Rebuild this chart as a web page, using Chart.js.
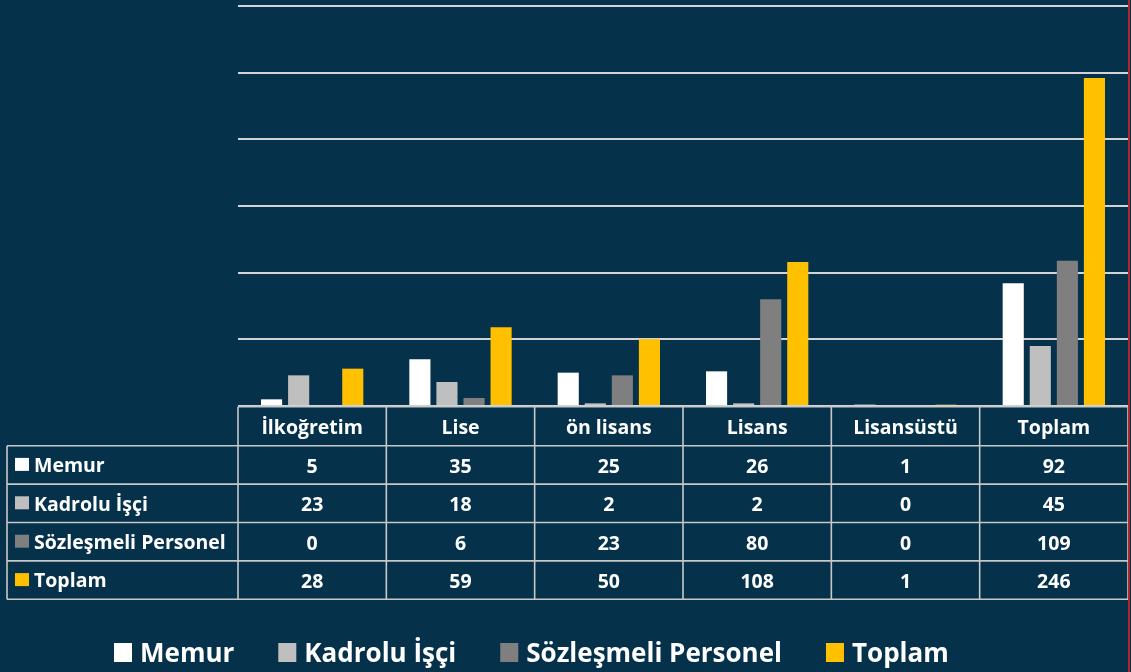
<!DOCTYPE html>
<html>
<head>
<meta charset="utf-8">
<script src="https://cdn.jsdelivr.net/npm/chart.js@4.4.1/dist/chart.umd.min.js"></script>
<style>
  html, body { margin: 0; padding: 0; background: #05324A; }
  #wrap { width: 1131px; height: 672px; position: relative; }
  canvas { display: block; }
</style>
</head>
<body>
<div id="wrap"><canvas id="c" width="1131" height="672"></canvas></div>
<script>
// ---- data ----
const categories = ['İlkoğretim', 'Lise', 'ön lisans', 'Lisans', 'Lisansüstü', 'Toplam'];
const seriesNames = ['Memur', 'Kadrolu İşçi', 'Sözleşmeli Personel', 'Toplam'];
const memur = [5, 35, 25, 26, 1, 92];
const kadrolu = [23, 18, 2, 2, 0, 45];
const sozlesmeli = [0, 6, 23, 80, 0, 109];
const toplam = [28, 59, 50, 108, 1, 246];
const yMin = 0;
const yMax = 300;
const yStep = 50;

// ---- styles ----
const BG = '#05324A';
const colors = ['#FFFFFF', '#BFBFBF', '#7F7F7F', '#FFC000'];
const FONT = '"Open Sans", "DejaVu Sans", sans-serif';
const LINE = '#c8c8c8';

const seriesValues = [memur, kadrolu, sozlesmeli, toplam];

const bgPlugin = {
  id: 'bg',
  beforeDraw(chart) {
    const ctx = chart.ctx;
    ctx.save();
    ctx.fillStyle = BG;
    ctx.fillRect(0, 0, chart.width, chart.height);
    ctx.restore();
  }
};

const tablePlugin = {
  id: 'dataTable',
  afterDraw(chart) {
    const ctx = chart.ctx;
    const area = chart.chartArea;
    const n = categories.length;
    const colW = (area.right - area.left) / n;
    const labelLeft = 7;
    const top = area.bottom + 0.7;
    const headerH = 39;
    const rowH = 38.4;
    const nRows = chart.data.datasets.length;
    const bottom = top + headerH + nRows * rowH;

    ctx.save();
    ctx.strokeStyle = LINE;
    ctx.lineWidth = 1.6;
    ctx.beginPath();
    ctx.moveTo(area.left, top); ctx.lineTo(area.right, top);
    for (let r = 0; r <= nRows; r++) {
      const y = top + headerH + r * rowH;
      ctx.moveTo(labelLeft, y); ctx.lineTo(area.right, y);
    }
    ctx.moveTo(labelLeft, top + headerH); ctx.lineTo(labelLeft, bottom);
    for (let i = 0; i <= n; i++) {
      const x = area.left + i * colW;
      ctx.moveTo(x, top); ctx.lineTo(x, bottom);
    }
    ctx.stroke();

    ctx.fillStyle = '#FFFFFF';
    ctx.font = 'bold 19.5px ' + FONT;
    ctx.textAlign = 'center';
    ctx.textBaseline = 'alphabetic';
    const xs = chart.scales.x;
    categories.forEach((c, i) => {
      const cx = xs.getPixelForValue(i);
      ctx.fillText(c, cx, top + headerH / 2 + 7.3);
    });

    chart.data.datasets.forEach((ds, r) => {
      const rowTop = top + headerH + r * rowH;
      const cy = rowTop + rowH / 2;
      ctx.fillStyle = ds.backgroundColor;
      ctx.fillRect(15, cy - 7, 14, 13);
      ctx.fillStyle = '#FFFFFF';
      ctx.textAlign = 'left';
      ctx.fillText(ds.label, 34, cy + 7.3);
      ctx.textAlign = 'center';
      ds.data.forEach((v, i) => {
        ctx.fillText(String(v), xs.getPixelForValue(i), cy + 8);
      });
    });

    ctx.font = 'bold 26px ' + FONT;
    ctx.textAlign = 'left';
    let x = 114;
    const base = 662;
    chart.data.datasets.forEach((ds) => {
      ctx.fillStyle = ds.backgroundColor;
      ctx.fillRect(x, base - 19, 18, 19);
      x += 26;
      ctx.fillStyle = '#FFFFFF';
      ctx.fillText(ds.label, x, base);
      x += ctx.measureText(ds.label).width + 44;
    });

    ctx.fillStyle = '#b3242b';
    ctx.fillRect(Math.round(area.right), 0, 2, chart.height);
    ctx.restore();
  }
};

function build() {
  new Chart(document.getElementById('c'), {
    type: 'bar',
    data: {
      labels: categories,
      datasets: seriesNames.map((name, i) => ({
        label: name,
        data: seriesValues[i],
        backgroundColor: colors[i],
        borderWidth: 0,
        barPercentage: 0.78,
        categoryPercentage: 0.73
      }))
    },
    options: {
      responsive: false,
      animation: false,
      devicePixelRatio: 1,
      layout: { padding: { left: 238, right: 3, top: 6, bottom: 266 } },
      plugins: { legend: { display: false }, tooltip: { enabled: false } },
      scales: {
        x: { display: false, offset: true },
        y: {
          display: true,
          min: yMin, max: yMax,
          ticks: { display: false, stepSize: yStep },
          border: { display: false },
          grid: { color: 'rgba(220,220,220,0.95)', lineWidth: 2, drawTicks: false }
        }
      }
    },
    plugins: [bgPlugin, tablePlugin]
  });
}

if (document.fonts && document.fonts.load) {
  Promise.all([
    document.fonts.load('bold 20px "Open Sans"'),
    document.fonts.load('bold 26px "Open Sans"')
  ]).then(build, build);
} else {
  build();
}
</script>
</body>
</html>
